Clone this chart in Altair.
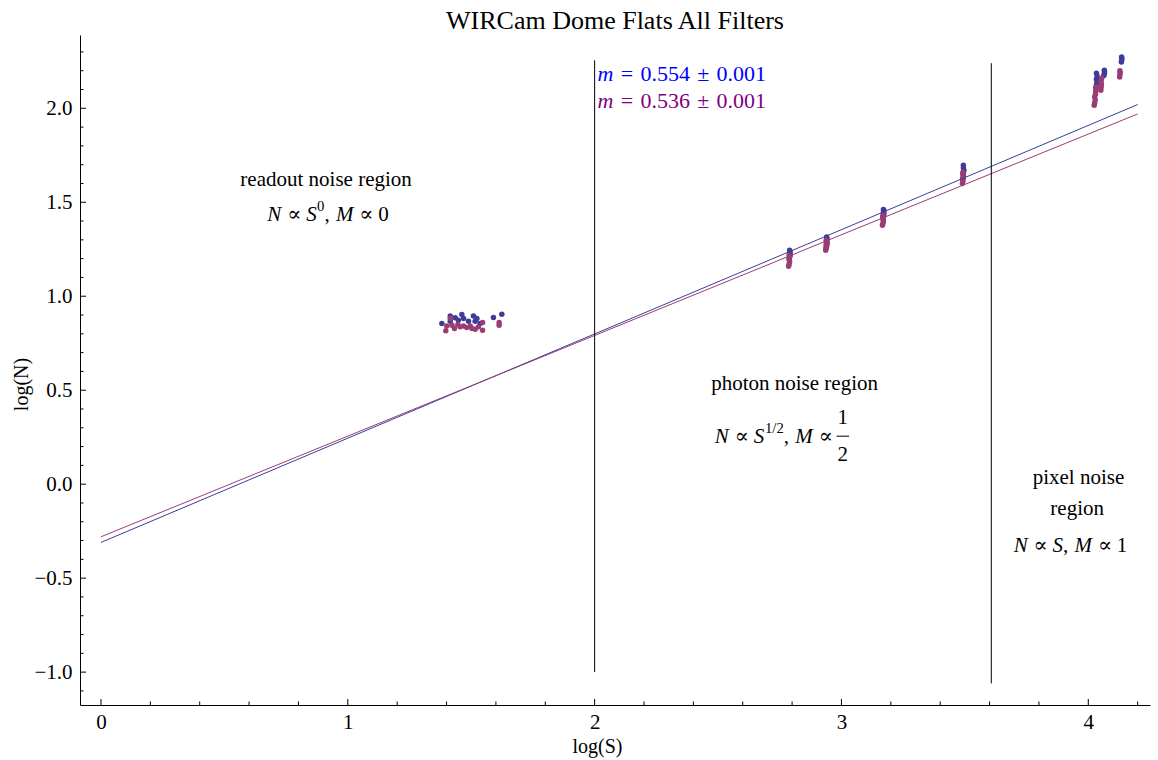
import altair as alt
import pandas as pd

# ---------------- data ----------------
blue_x = [1.381, 1.415, 1.415, 1.435, 1.448, 1.462, 1.469, 1.489, 1.509, 1.516, 1.523, 1.536, 1.590, 1.624,
          2.788, 2.790, 2.792, 2.790, 2.792, 2.790,
          2.938, 2.940, 2.942, 2.940, 2.942, 2.940,
          3.168, 3.170, 3.172, 3.170, 3.172, 3.170,
          3.492, 3.494, 3.494, 3.496, 3.494, 3.494,
          4.030, 4.033, 4.035, 4.033, 4.036, 4.033,
          4.063, 4.065, 4.066, 4.065,
          4.134, 4.135, 4.136, 4.135]
blue_y = [0.855, 0.895, 0.867, 0.885, 0.872, 0.903, 0.881, 0.867, 0.895, 0.867, 0.881, 0.855, 0.887, 0.904,
          1.200, 1.210, 1.220, 1.228, 1.236, 1.245,
          1.262, 1.272, 1.283, 1.293, 1.304, 1.315,
          1.419, 1.428, 1.437, 1.446, 1.455, 1.461,
          1.628, 1.642, 1.656, 1.670, 1.684, 1.697,
          2.110, 2.125, 2.140, 2.155, 2.170, 2.186,
          2.175, 2.185, 2.195, 2.202,
          2.246, 2.255, 2.265, 2.273]

purple_x = [1.397, 1.401, 1.422, 1.432, 1.446, 1.455, 1.469, 1.482, 1.496, 1.503, 1.516, 1.529, 1.546, 1.546,
            1.613, 1.613, 1.415,
            2.786, 2.788, 2.790, 2.788, 2.790, 2.788,
            2.936, 2.938, 2.940, 2.938, 2.940, 2.938,
            3.166, 3.168, 3.170, 3.168, 3.170, 3.168,
            3.490, 3.492, 3.492, 3.494, 3.492, 3.492,
            4.024, 4.026, 4.028, 4.026, 4.029, 4.030, 4.031, 4.032,
            4.051, 4.052, 4.053, 4.052, 4.054,
            4.127, 4.128, 4.129, 4.128]
purple_y = [0.816, 0.842, 0.846, 0.828, 0.849, 0.837, 0.842, 0.833, 0.842, 0.828, 0.824, 0.837, 0.819, 0.860,
            0.860, 0.846, 0.881,
            1.160, 1.172, 1.184, 1.195, 1.207, 1.218,
            1.245, 1.255, 1.266, 1.277, 1.288, 1.298,
            1.378, 1.389, 1.400, 1.411, 1.421, 1.431,
            1.600, 1.612, 1.624, 1.636, 1.648, 1.660,
            2.016, 2.030, 2.045, 2.060, 2.075, 2.090, 2.105, 2.113,
            2.096, 2.112, 2.128, 2.144, 2.160,
            2.167, 2.178, 2.190, 2.200]

fit_x = [0.0, 4.2]
fit_blue_y = [-0.31, 2.02]
fit_purple_y = [-0.28, 1.97]

vline_x = [2.0, 3.607]
vline_y_low = [-1.0, -1.06]
vline_y_high = [2.255, 2.24]

x_major = [0, 1, 2, 3, 4]
x_minor = [0.2, 0.4, 0.6, 0.8, 1.2, 1.4, 1.6, 1.8, 2.2, 2.4, 2.6, 2.8, 3.2, 3.4, 3.6, 3.8, 4.2]
y_major = [-1.0, -0.5, 0.0, 0.5, 1.0, 1.5, 2.0]
y_minor = [-1.1, -0.9, -0.8, -0.7, -0.6, -0.4, -0.3, -0.2, -0.1, 0.1, 0.2, 0.3, 0.4, 0.6, 0.7, 0.8, 0.9,
           1.1, 1.2, 1.3, 1.4, 1.6, 1.7, 1.8, 1.9, 2.1, 2.2, 2.3]

title_text = "WIRCam Dome Flats All Filters"
x_title = "log(S)"
y_title = "log(N)"

# annotation anchors (data coordinates)
region_labels = ["readout noise region", "photon noise region", "pixel noise", "region"]
region_x = [0.912, 2.81, 3.96, 3.955]
region_y = [1.617, 0.532, 0.032, -0.133]

formula_cx = [0.92, 2.757, 3.928]
formula_y = [1.43, 0.25, -0.33]

slope_values = [["0.554", "0.001"], ["0.536", "0.001"]]
slope_x = [2.012, 2.012]
slope_y = [2.18, 2.04]

# ---------------- styling ----------------
FONT = "Liberation Serif, Times New Roman, DejaVu Serif"
BLUE = "#3d3d99"
PURPLE = "#993d74"
W, H = 1070, 670
TXT = 21

xs = alt.Scale(domain=[-0.085, 4.25], nice=False, zero=False)
ys = alt.Scale(domain=[-1.175, 2.39], nice=False, zero=False)

X = alt.X("x:Q", scale=xs, axis=alt.Axis(values=x_major, format="d", ticks=False, grid=False,
                                         labelFont=FONT, labelFontSize=21, labelPadding=6,
                                         title=x_title, titleFont=FONT, titleFontSize=20,
                                         titleFontWeight="normal", titleX=517, titlePadding=4,
                                         labelColor="black", titleColor="black",
                                         domainColor="black", labelFlush=False))
Y = alt.Y("y:Q", scale=ys, axis=alt.Axis(values=y_major, ticks=False, grid=False,
                                         labelExpr="replace(format(datum.value, '.1f'), '-', '\u2212')",
                                         labelFont=FONT, labelFontSize=21, labelPadding=8,
                                         title=y_title, titleFont=FONT, titleFontSize=20,
                                         titleFontWeight="normal", titleY=349, titlePadding=2,
                                         labelColor="black", titleColor="black",
                                         domainColor="black", labelFlush=False))

layers = []

# tick marks pointing inward
layers.append(alt.Chart(pd.DataFrame({"x": x_major})).mark_rule(color="black", strokeWidth=1)
              .encode(x=X, y=alt.value(H), y2=alt.value(H - 6)))
layers.append(alt.Chart(pd.DataFrame({"x": x_minor})).mark_rule(color="black", strokeWidth=1)
              .encode(x=X, y=alt.value(H), y2=alt.value(H - 3.5)))
layers.append(alt.Chart(pd.DataFrame({"y": y_major})).mark_rule(color="black", strokeWidth=1)
              .encode(y=Y, x=alt.value(0), x2=alt.value(6)))
layers.append(alt.Chart(pd.DataFrame({"y": y_minor})).mark_rule(color="black", strokeWidth=1)
              .encode(y=Y, x=alt.value(0), x2=alt.value(3.5)))

# points
layers.append(alt.Chart(pd.DataFrame({"x": blue_x, "y": blue_y})).mark_circle(size=30, opacity=1, color=BLUE)
              .encode(x=X, y=Y))
layers.append(alt.Chart(pd.DataFrame({"x": purple_x, "y": purple_y})).mark_circle(size=30, opacity=1, color=PURPLE)
              .encode(x=X, y=Y))

# fit lines
layers.append(alt.Chart(pd.DataFrame({"x": fit_x, "y": fit_blue_y})).mark_line(color=BLUE, strokeWidth=1)
              .encode(x=X, y=Y))
layers.append(alt.Chart(pd.DataFrame({"x": fit_x, "y": fit_purple_y})).mark_line(color=PURPLE, strokeWidth=1)
              .encode(x=X, y=Y))

# vertical region separators
layers.append(alt.Chart(pd.DataFrame({"x": vline_x, "y": vline_y_low, "y2": vline_y_high}))
              .mark_rule(color="black", strokeWidth=1)
              .encode(x=X, y=Y, y2="y2:Q"))

# region labels
layers.append(alt.Chart(pd.DataFrame({"x": region_x, "y": region_y, "label": region_labels}))
              .mark_text(font=FONT, fontSize=TXT, color="black", align="center", baseline="middle")
              .encode(x=X, y=Y, text="label:N"))

# formula pieces: (text, kind, gap before in em)
ROMAN_W = {" ": 0.25, ",": 0.25, ".": 0.25, "=": 0.564, "\u00b1": 0.549, "\u221d": 0.62, "/": 0.278}
ITALIC_W = {"N": 0.667, "S": 0.5, "M": 0.833, "m": 0.722}


def width_of(txt, kind):
    w = 0.0
    for ch in txt:
        if kind == "it":
            w += ITALIC_W.get(ch, 0.5)
        else:
            w += ROMAN_W.get(ch, 0.5)
    return w


def piece_layers(x, y, pieces, color="black", size=TXT, center=True, frac=False):
    out = []
    specs = []
    total = 0.0
    for txt, kind, gap in pieces:
        fs = size * 0.7 if kind == "sup" else size
        total += gap * size
        specs.append((txt, kind, fs, total))
        total += width_of(txt, kind) * fs
    fgap = 0.28 * size
    fw = 0.5 * size
    if frac:
        total += fgap + fw
    start = -total / 2 if center else 0.0
    for txt, kind, fs, off in specs:
        dy = -size * 0.4 if kind == "sup" else 0
        style = "italic" if kind == "it" else "normal"
        df = pd.DataFrame({"x": [x], "y": [y], "label": [txt]})
        out.append(alt.Chart(df).mark_text(align="left", baseline="middle", dx=start + off, dy=dy,
                                           font=FONT, fontSize=fs, fontStyle=style, color=color)
                   .encode(x=X, y=Y, text="label:N"))
    if frac:
        fx = start + total - fw / 2
        for txt, dy in (("1", -19), ("2", 18)):
            df = pd.DataFrame({"x": [x], "y": [y], "label": [txt]})
            out.append(alt.Chart(df).mark_text(align="center", baseline="middle", dx=fx, dy=dy,
                                               font=FONT, fontSize=size, color=color)
                       .encode(x=X, y=Y, text="label:N"))
        # fraction bar
        df = pd.DataFrame({"x": [x], "y": [y], "x2": [x], "y2": [y]})
        out.append(alt.Chart(df).mark_rule(color=color, strokeWidth=1,
                                           xOffset=fx - fw / 2 - 1, x2Offset=fx + fw / 2 + 1,
                                           yOffset=-1, y2Offset=-1)
                   .encode(x=X, y=Y, x2="x2:Q", y2="y2:Q"))
    return out


P = "\u221d"
G = 0.28
readout_f = [("N", "it", 0), (P, "rm", G), ("S", "it", G), ("0", "sup", 0.02), (",", "rm", 0),
             ("M", "it", 0.3), (P, "rm", G), ("0", "rm", G)]
photon_f = [("N", "it", 0), (P, "rm", G), ("S", "it", G), ("1/2", "sup", 0.04), (",", "rm", 0),
            ("M", "it", 0.3), (P, "rm", G)]
pixel_f = [("N", "it", 0), (P, "rm", G), ("S", "it", G), (",", "rm", 0),
           ("M", "it", 0.3), (P, "rm", G), ("1", "rm", G)]

layers += piece_layers(formula_cx[0], formula_y[0], readout_f)
layers += piece_layers(formula_cx[1], formula_y[1], photon_f, frac=True)
layers += piece_layers(formula_cx[2], formula_y[2], pixel_f)

SG = 0.33
for i, col in enumerate(["#0000ff", "#800080"]):
    v, e = slope_values[i]
    pcs = [("m", "it", 0), ("=", "rm", SG), (v, "rm", SG), ("\u00b1", "rm", SG), (e, "rm", SG)]
    layers += piece_layers(slope_x[i], slope_y[i], pcs, color=col, size=22, center=False)

chart = alt.layer(*layers).properties(
    width=W, height=H,
    title=alt.TitleParams(title_text, font=FONT, fontSize=26, fontWeight="normal", color="black", offset=1),
    autosize=alt.AutoSizeParams(type="none"),
    padding={"left": 80, "top": 35, "right": 8, "bottom": 55},
).configure_view(stroke=None)

chart.save("out.html", embed_options={"renderer": "svg", "actions": False})
